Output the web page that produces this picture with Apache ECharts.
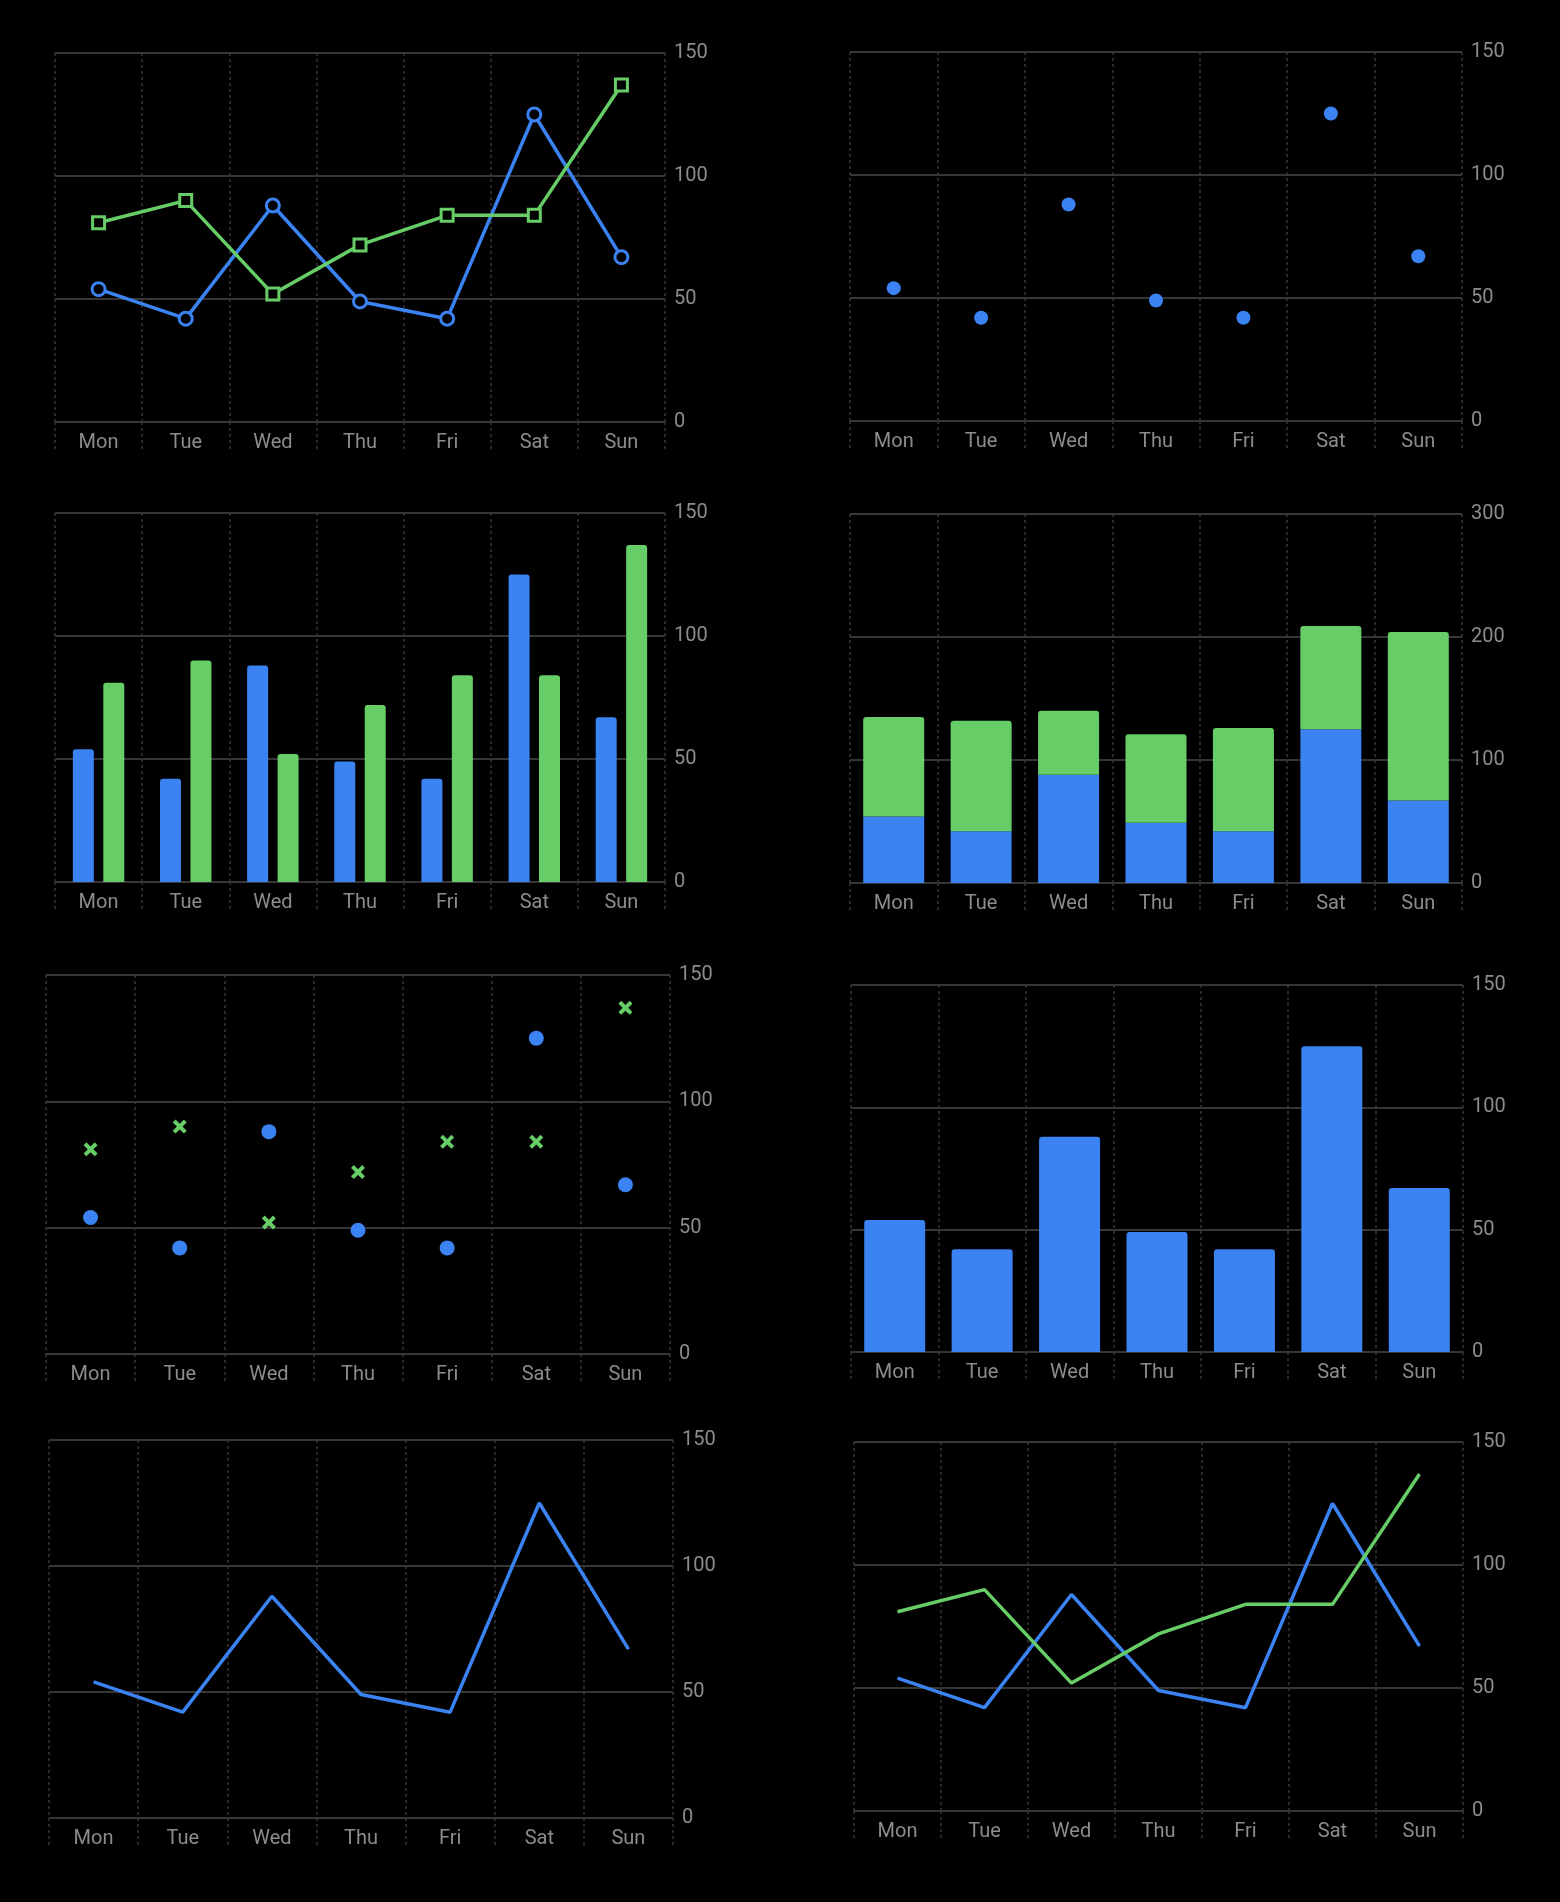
<!DOCTYPE html>
<html lang="en">
<head>
	<meta charset="UTF-8">
	<title>Weekly charts</title>
	<script src="https://cdn.jsdelivr.net/npm/echarts@6/dist/echarts.min.js"></script>
	<style>
		html,body{margin:0;padding:0;background:#000;}
		#box{width:1560px;height:1902px;}
	</style>
</head>
<body>
<div id="box"></div>
<script>
	let days=['Mon','Tue','Wed','Thu','Fri','Sat','Sun'];
	let blue=[54,42,88,49,42,125,67];
	let green=[81,90,52,72,84,84,137];

	let BLUE='#3b82f2';
	let GREEN='#67cd67';
	let TEXT='#8c8c8c';
	let LINE='#363636';

	// where each of the 8 little charts sits
	let boxes=[
		{left:55,top:53,width:610,height:369},
		{left:850,top:52,width:612,height:369},
		{left:55,top:513,width:610,height:369},
		{left:850,top:514,width:612,height:369},
		{left:46,top:975,width:624,height:379},
		{left:851,top:985,width:612,height:367},
		{left:49,top:1440,width:624,height:378},
		{left:854,top:1442,width:609,height:369}
	];
	let maxes=[150,150,150,300,150,150,150,150];

	let grid=[],xAxis=[],yAxis=[];
	boxes.forEach((b,i)=>{
		grid.push(Object.assign({containLabel:false},b));
		xAxis.push({
			type:'category',
			gridIndex:i,
			data:days,
			boundaryGap:true,
			axisLine:{show:false},
			axisTick:{show:true,length:30,interval:0,lineStyle:{color:LINE,type:[3,3],width:1.5}},
			splitLine:{show:true,interval:0,lineStyle:{color:LINE,type:[3,3],width:1.5}},
			axisLabel:{color:TEXT,fontSize:20,fontFamily:'Roboto',margin:11,interval:0}
		});
		yAxis.push({
			type:'value',
			gridIndex:i,
			position:'right',
			min:0,
			max:maxes[i],
			interval:maxes[i]/3,
			axisLine:{show:false},
			axisTick:{show:false},
			splitLine:{show:true,lineStyle:{color:LINE,width:2}},
			axisLabel:{color:TEXT,fontSize:20,fontFamily:'Roboto',margin:9}
		});
	});

	// X shaped marker, thick arms
	let cross='path://M4,0 L10,6 L16,0 L20,4 L14,10 L20,16 L16,20 L10,14 L4,20 L0,16 L6,10 L0,4 Z';

	let series=[
		// 1: lines with hollow markers (black fill, coloured ring)
		{type:'line',xAxisIndex:0,yAxisIndex:0,data:blue,symbol:'circle',symbolSize:13,
			lineStyle:{color:BLUE,width:3.5},itemStyle:{color:'#000',borderColor:BLUE,borderWidth:3}},
		{type:'line',xAxisIndex:0,yAxisIndex:0,data:green,symbol:'rect',symbolSize:12,
			lineStyle:{color:GREEN,width:3.5},itemStyle:{color:'#000',borderColor:GREEN,borderWidth:3}},
		// 2: points
		{type:'scatter',xAxisIndex:1,yAxisIndex:1,data:blue,symbolSize:14,itemStyle:{color:BLUE,opacity:1}},
		// 3: side by side bars
		{type:'bar',xAxisIndex:2,yAxisIndex:2,data:blue,barWidth:21,barGap:'45%',
			itemStyle:{color:BLUE,borderRadius:[3,3,0,0]}},
		{type:'bar',xAxisIndex:2,yAxisIndex:2,data:green,barWidth:21,barGap:'45%',
			itemStyle:{color:GREEN,borderRadius:[3,3,0,0]}},
		// 4: stacked bars
		{type:'bar',xAxisIndex:3,yAxisIndex:3,data:blue,stack:'s',barWidth:61,itemStyle:{color:BLUE}},
		{type:'bar',xAxisIndex:3,yAxisIndex:3,data:green,stack:'s',barWidth:61,
			itemStyle:{color:GREEN,borderRadius:[3,3,0,0]}},
		// 5: points and crosses
		{type:'scatter',xAxisIndex:4,yAxisIndex:4,data:blue,symbolSize:15,itemStyle:{color:BLUE,opacity:1}},
		{type:'scatter',xAxisIndex:4,yAxisIndex:4,data:green,symbol:cross,symbolSize:14,itemStyle:{color:GREEN,opacity:1}},
		// 6: single bars
		{type:'bar',xAxisIndex:5,yAxisIndex:5,data:blue,barWidth:61,
			itemStyle:{color:BLUE,borderRadius:[3,3,0,0]}},
		// 7: one line
		{type:'line',xAxisIndex:6,yAxisIndex:6,data:blue,symbol:'none',lineStyle:{color:BLUE,width:3.5}},
		// 8: two lines
		{type:'line',xAxisIndex:7,yAxisIndex:7,data:blue,symbol:'none',lineStyle:{color:BLUE,width:3.5}},
		{type:'line',xAxisIndex:7,yAxisIndex:7,data:green,symbol:'none',lineStyle:{color:GREEN,width:3.5}}
	];

	let charts=echarts.init(document.getElementById('box'));
	charts.setOption({
		backgroundColor:'#000',
		animation:false,
		grid:grid,
		xAxis:xAxis,
		yAxis:yAxis,
		series:series
	});
</script>
</body>
</html>
